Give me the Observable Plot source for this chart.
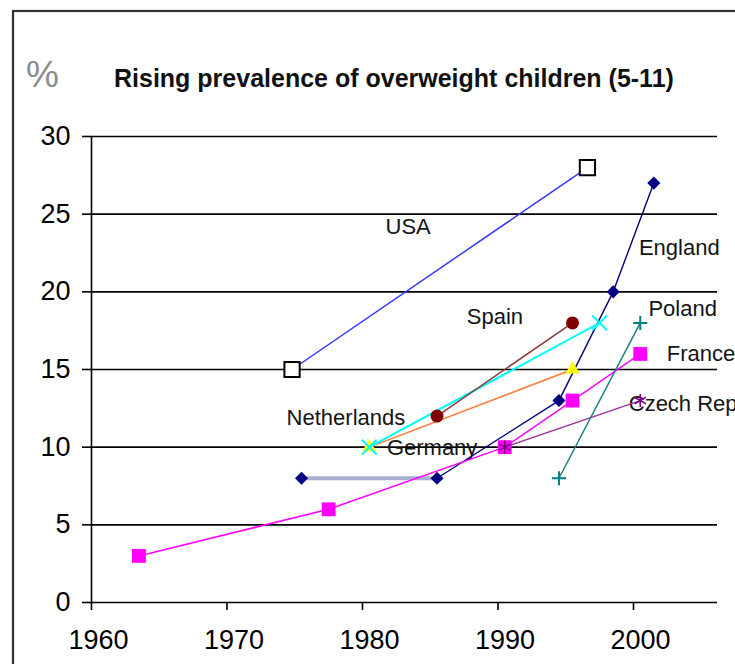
<!DOCTYPE html>
<html><head><meta charset="utf-8">
<script src="https://cdn.jsdelivr.net/npm/d3@7"></script>
<script src="https://cdn.jsdelivr.net/npm/@observablehq/plot@0.6"></script>
<style>
html,body{margin:0;padding:0;background:#fff;overflow:hidden;}
#chart{position:relative;width:735px;height:664px;overflow:hidden;}
#chart svg{overflow:hidden;}
</style></head><body><div id="chart"></div>
<script>
// ---- data ----
const usaYears = [1974.8, 1996.6];
const usaValues = [15, 28];
const englandYears = [1975.5, 1985.5, 1994.5, 1998.5, 2001.5];
const englandValues = [8, 8, 13, 20, 27];
const franceYears = [1963.5, 1977.5, 1990.5, 1995.5, 2000.5];
const franceValues = [3, 6, 10, 13, 16];
const germanyYears = [1980.5, 1995.5];
const germanyValues = [10, 15];
const netherlandsYears = [1980.5, 1997.5];
const netherlandsValues = [10, 18];
const spainYears = [1985.5, 1995.5];
const spainValues = [12, 18];
const czechYears = [1990.5, 2000.5];
const czechValues = [10, 13];
const polandYears = [1994.5, 2000.5];
const polandValues = [8, 18];

const xTicks = [1960, 1970, 1980, 1990, 2000];
const yTicks = [0, 5, 10, 15, 20, 25, 30];

const labelTexts = ["USA", "England", "Spain", "Poland", "France", "Czech Rep", "Netherlands", "Germany"];
const labelYears = [1981.7, 2000.4, 1987.7, 2001.1, 2002.45, 1999.65, 1974.4, 1981.8];
const labelValues = [24.2, 22.85, 18.4, 18.93, 16.03, 12.8, 11.85, 9.98];

const titleText = "Rising prevalence of overweight children (5-11)";
const unitText = "%";

// ---- build tables ----
const toRows = (name, xs, ys) => xs.map((x, i) => ({series: name, year: x, value: ys[i]}));
const series = [
  {name: "USA", rows: toRows("USA", usaYears, usaValues)},
  {name: "England", rows: toRows("England", englandYears, englandValues)},
  {name: "France", rows: toRows("France", franceYears, franceValues)},
  {name: "Germany", rows: toRows("Germany", germanyYears, germanyValues)},
  {name: "Netherlands", rows: toRows("Netherlands", netherlandsYears, netherlandsValues)},
  {name: "Spain", rows: toRows("Spain", spainYears, spainValues)},
  {name: "Czech Rep", rows: toRows("Czech Rep", czechYears, czechValues)},
  {name: "Poland", rows: toRows("Poland", polandYears, polandValues)}
];
const labels = labelTexts.map((t, i) => ({text: t, year: labelYears[i], value: labelValues[i]}));

// ---- styles ----
const styles = {
  "USA": {line: "#3636ff", lw: 1.5, symbol: "square", r: 8.6, fill: "#fff", mstroke: "#000", msw: 2},
  "England": {line: "#00007a", lw: 1.4, symbol: "diamond2", r: 5.9, fill: "#000080", mstroke: "none", msw: 0},
  "France": {line: "#ff00ff", lw: 1.5, symbol: "square", r: 7.8, fill: "#ff00ff", mstroke: "none", msw: 0},
  "Germany": {line: "#ff7a3a", lw: 1.5, symbol: "triangle", r: 5.3, fill: "#ffff00", mstroke: "none", msw: 0},
  "Netherlands": {line: "#00ffff", lw: 2, symbol: "times", r: 6.8, fill: "none", mstroke: "#00ffff", msw: 2},
  "Spain": {line: "#8b3a3a", lw: 1.5, symbol: "circle", r: 6.5, fill: "#800000", mstroke: "none", msw: 0},
  "Czech Rep": {line: "#993399", lw: 1.4, symbol: "asterisk", r: 6.2, fill: "none", mstroke: "#800080", msw: 1.6},
  "Poland": {line: "#1a8080", lw: 1.5, symbol: "plus", r: 4.6, fill: "none", mstroke: "#008080", msw: 2}
};

const font = "'Liberation Sans', Arial, sans-serif";

const marks = [
  Plot.ruleY(yTicks, {stroke: "#000", strokeWidth: 1.6}),
  Plot.ruleX([xTicks[0]], {stroke: "#000", strokeWidth: 1.6}),
  Plot.axisY({ticks: yTicks, tickSize: 9, tickPadding: 12, fontSize: 27, label: null, stroke: "#000", strokeWidth: 1.6}),
  Plot.axisX({ticks: xTicks, tickSize: 8, text: null, label: null, stroke: "#000", strokeWidth: 1.6}),
  Plot.axisX({ticks: xTicks, tickSize: 0, tickPadding: 27, fontSize: 27, label: null, tickFormat: d => String(d), dx: 7}),
  Plot.text(labels, {x: "year", y: "value", text: "text", textAnchor: "start", fontSize: 22, fill: "#141414"})
];

for (const s of series) {
  const st = styles[s.name];
  if (s.name === "England") {
    marks.push(Plot.line(s.rows.slice(0, 2), {x: "year", y: "value", stroke: "#a9aed2", strokeWidth: 4}));
    marks.push(Plot.line(s.rows.slice(1), {x: "year", y: "value", stroke: st.line, strokeWidth: st.lw}));
  } else {
    marks.push(Plot.line(s.rows, {x: "year", y: "value", stroke: st.line, strokeWidth: st.lw}));
  }
  marks.push(Plot.dot(s.rows, {x: "year", y: "value", symbol: st.symbol, r: st.r, fill: st.fill, stroke: st.mstroke, strokeWidth: st.msw}));
}

const chart = Plot.plot({
  width: 735,
  height: 664,
  marginLeft: 91,
  marginRight: 18,
  marginTop: 136,
  marginBottom: 62,
  x: {domain: [1960, 2006.2]},
  y: {domain: [0, 30]},
  style: {fontFamily: font, color: "#000", background: "#fff", overflow: "hidden"},
  marks
});

const svg = d3.select(chart);
svg.insert("rect", ":first-child")
  .attr("x", 13).attr("y", 11).attr("width", 800).attr("height", 800)
  .attr("fill", "none").attr("stroke", "#333").attr("stroke-width", 2.2);
svg.append("text")
  .attr("x", 26).attr("y", 87).attr("text-anchor", "start")
  .attr("font-size", 37).attr("fill", "#8c8c8c").attr("font-family", font)
  .text(unitText);
svg.append("text")
  .attr("x", 114).attr("y", 87).attr("text-anchor", "start")
  .attr("font-size", 25).attr("font-weight", "bold").attr("fill", "#111").attr("font-family", font)
  .text(titleText);

document.getElementById("chart").appendChild(chart);
</script></body></html>
